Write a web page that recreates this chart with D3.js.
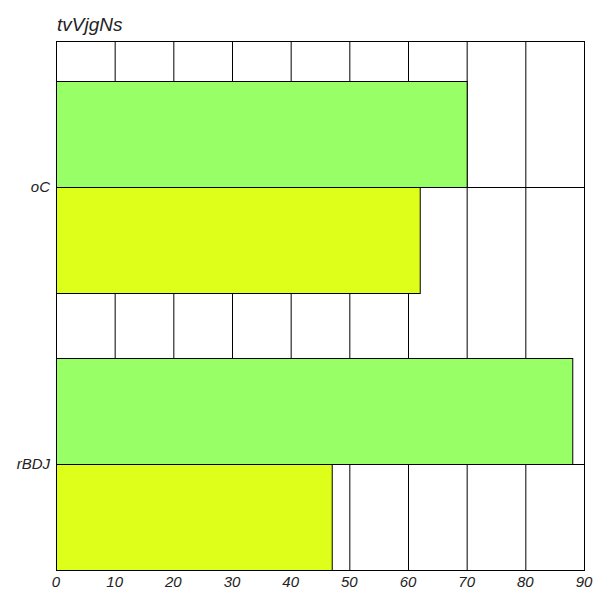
<!DOCTYPE html>
<html><head><meta charset="utf-8">
<script src="https://cdn.jsdelivr.net/npm/d3@7"></script>
<style>body{margin:0;background:#fff}svg{display:block}text{font-family:"Liberation Sans",Arial,sans-serif;font-style:italic}</style>
</head><body><svg id="c" width="608" height="608"></svg>
<script>
const categories = ["oC", "rBDJ"];
const seriesA = [70, 88];
const seriesB = [62, 47];
const xTicks = [0,10,20,30,40,50,60,70,80,90];
const title = "tvVjgNs";
const colors = ["#99ff66", "#ddff1a"];

const svg = d3.select("#c");
const L = 56, R = 584, T = 41, B = 570;
const x = d3.scaleLinear().domain([0, 90]).range([L, R]);
const barH = 106;
const y = d3.scalePoint().domain(categories).range([T + 40 + barH, B - barH]);

svg.append("g").selectAll("line").data(xTicks).join("line")
  .attr("x1", d => x(d)+0.5).attr("x2", d => x(d)+0.5)
  .attr("y1", T).attr("y2", B).attr("stroke", "#000").attr("stroke-width", 1);
svg.append("g").selectAll("line").data(categories).join("line")
  .attr("x1", L).attr("x2", R).attr("y1", d => y(d)+0.5).attr("y2", d => y(d)+0.5)
  .attr("stroke", "#000");

const g = svg.append("g");
categories.forEach((c, i) => {
  g.append("rect").attr("x", x(0)+0.5).attr("y", y(c) - barH + 0.5)
    .attr("width", x(seriesA[i]) - x(0)).attr("height", barH)
    .attr("fill", colors[0]).attr("stroke", "#000");
  g.append("rect").attr("x", x(0)+0.5).attr("y", y(c) + 0.5)
    .attr("width", x(seriesB[i]) - x(0)).attr("height", barH)
    .attr("fill", colors[1]).attr("stroke", "#000");
});

svg.append("rect").attr("x", L+0.5).attr("y", T+0.5).attr("width", R-L).attr("height", B-T)
  .attr("fill", "none").attr("stroke", "#000");

svg.append("g").selectAll("text").data(xTicks).join("text")
  .attr("x", d => x(d)).attr("y", B + 17).attr("text-anchor", "middle")
  .attr("font-size", 15).attr("fill", "#222").text(d => d);
svg.append("g").selectAll("text").data(categories).join("text")
  .attr("x", L - 6).attr("y", d => y(d) + 5).attr("text-anchor", "end")
  .attr("font-size", 15).attr("fill", "#222").text(d => d);
svg.append("text").attr("x", L + 1).attr("y", 31).attr("font-size", 19).attr("fill", "#222").text(title);
</script></body></html>
